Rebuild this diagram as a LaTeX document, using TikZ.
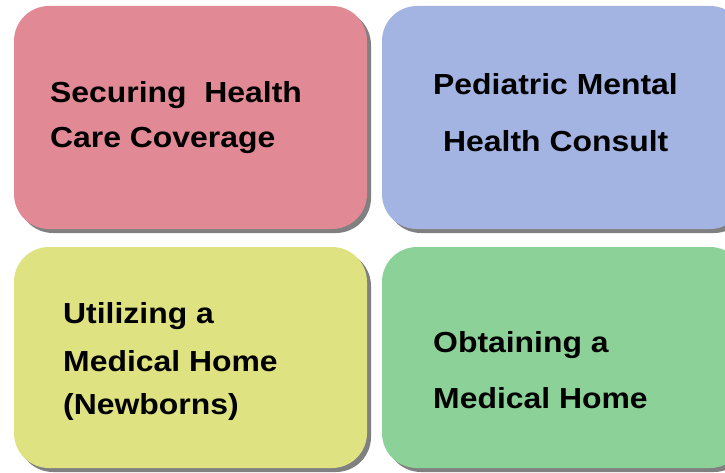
\documentclass[tikz,border=0pt]{standalone}
\usepackage{fontspec}
\setmainfont{Liberation Sans}[FakeStretch=1.1]
\usetikzlibrary{shadows}
\definecolor{pinkc}{RGB}{225,137,148}
\definecolor{bluec}{RGB}{164,180,226}
\definecolor{yellowc}{RGB}{222,226,128}
\definecolor{greenc}{RGB}{140,210,152}
\tikzset{
  card/.style={rounded corners=35pt, draw=none, inner sep=0pt,
    drop shadow={shadow xshift=4pt, shadow yshift=-4pt, fill=black!50, opacity=1}},
  lbl/.style={anchor=base west, inner sep=0pt, font=\fontsize{29}{29}\selectfont\bfseries, text=black}
}
\begin{document}
\begin{tikzpicture}[x=1pt,y=-1pt]
\useasboundingbox (0,0) rectangle (725,473);
\clip (0,0) rectangle (725,473);
\node[card, fill=pinkc, minimum width=353pt, minimum height=223pt] (pink) at (190.5,117.5) {};
\node[card, fill=bluec, minimum width=363pt, minimum height=223pt] (blue) at (563.5,117.5) {};
\node[card, fill=yellowc, minimum width=353pt, minimum height=221pt] (yellow) at (190.5,357.5) {};
\node[card, fill=greenc, minimum width=363pt, minimum height=221pt] (green) at (563.5,357.5) {};
\node[lbl] (p1) at (50,103) {Securing\ \ Health};
\node[lbl] (p2) at (50,148) {Care Coverage};
\node[lbl] (b1) at (433,95) {Pediatric Mental};
\node[lbl] (b2) at (443,152) {Health Consult};
\node[lbl] (y1) at (63,323) {Utilizing a};
\node[lbl] (y2) at (63,371) {Medical Home};
\node[lbl] (y3) at (63,414) {(Newborns)};
\node[lbl] (g1) at (433,352) {Obtaining a};
\node[lbl] (g2) at (433,408) {Medical Home};
\end{tikzpicture}
\end{document}
